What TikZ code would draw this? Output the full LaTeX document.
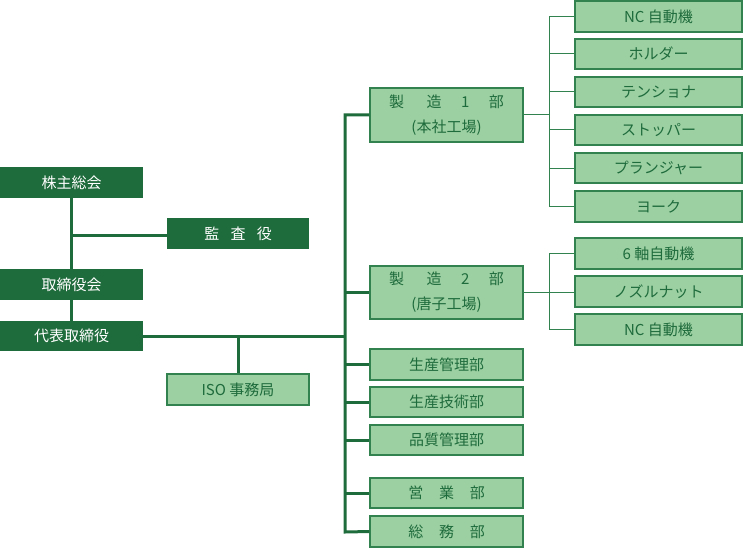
\documentclass[tikz,border=0pt]{standalone}
\usepackage{fontspec}
\setmainfont{Noto Sans CJK JP}
\begin{document}
\begin{tikzpicture}[x=1pt,y=-1pt,
  dk/.style={draw=none,fill=dgreen,text=white,inner sep=0pt,font=\fontsize{15}{25}\selectfont},
  lt/.style={draw=bgreen,line width=1.2pt,fill=lgreen,text=dgreen,inner sep=0pt,font=\fontsize{15}{25}\selectfont,align=center},
  thick line/.style={draw=dgreen,line width=3pt},
  thin line/.style={draw=bgreen,line width=1pt}]
\definecolor{dgreen}{RGB}{30,107,59}
\definecolor{lgreen}{RGB}{156,207,162}
\definecolor{bgreen}{RGB}{50,130,80}
\useasboundingbox (0,0) rectangle (743,548);
\newcommand{\bx}[6]{\node[#1,minimum width=#4-#3,minimum height=#6-#5] (#2) at ({(#3+#4)/2},{(#5+#6)/2})}
\newcommand{\gp}[1]{\hspace{#1em}}
\bx{dk}{kabu}{0}{143}{167}{198} {株主総会};
\bx{dk}{kansa}{167}{309}{218}{249} {監\gp{0.75}査\gp{0.75}役};
\bx{dk}{tori}{0}{143}{269}{300} {取締役会};
\bx{dk}{dai}{0}{143}{321}{351} {代表取締役};
\bx{lt}{iso}{167}{309}{374}{405} {ISO 事務局};
\bx{lt}{s1}{370}{523}{88}{142} {製\gp{1.5}造\gp{1.3}1\gp{1.3}部\\(本社工場)};
\bx{lt}{s2}{370}{523}{266}{319} {製\gp{1.5}造\gp{1.3}2\gp{1.3}部\\(唐子工場)};
\bx{lt}{sk}{370}{523}{349}{380} {生産管理部};
\bx{lt}{sg}{370}{523}{387}{417} {生産技術部};
\bx{lt}{hk}{370}{523}{425}{455} {品質管理部};
\bx{lt}{eg}{370}{523}{478}{508} {営\gp{1.05}業\gp{1.05}部};
\bx{lt}{sm}{370}{523}{516}{547} {総\gp{1.05}務\gp{1.05}部};
\bx{lt}{a1}{575}{742}{1}{32} {NC 自動機};
\bx{lt}{a2}{575}{742}{39}{69} {ホルダー};
\bx{lt}{a3}{575}{742}{77}{107} {テンショナ};
\bx{lt}{a4}{575}{742}{115}{145} {ストッパー};
\bx{lt}{a5}{575}{742}{153}{183} {プランジャー};
\bx{lt}{a6}{575}{742}{191}{222} {ヨーク};
\bx{lt}{b1}{575}{742}{238}{269} {6 軸自動機};
\bx{lt}{b2}{575}{742}{276}{307} {ノズルナット};
\bx{lt}{b3}{575}{742}{314}{345} {NC 自動機};
% coordinates
\coordinate (kv) at (72,235);
\coordinate (isoj) at (238,336);
\coordinate (bus) at (345,336);
\coordinate (bt) at (345,115);
\coordinate (bb) at (345,532);
\coordinate (br1) at (549,115);
\coordinate (br2) at (549,292);
% left lines
\draw[thick line] (kabu.south) -- (tori.north);
\draw[thick line] (tori.south) -- (dai.north);
\draw[thick line] (kv) -- (kv -| kansa.west);
\draw[thick line] (dai.east) -- (bus);
\draw[thick line] (isoj) -- (iso.north);
% bus
\draw[thick line] (s1.west) -- (bt) -- (bb) -- (sm.west);
\foreach \n in {s2,sk,sg,hk,eg} \draw[thick line] (bus |- \n.west) -- (\n.west);
% brackets
\draw[thin line] (s1.east) -- (br1);
\draw[thin line] (a1.west) -| (br1 |- a6.west) -- (a6.west);
\foreach \n in {a2,a3,a4,a5} \draw[thin line] (br1 |- \n.west) -- (\n.west);
\draw[thin line] (s2.east) -- (s2.east -| b2.west);
\draw[thin line] (b1.west) -| (br2 |- b3.west) -- (b3.west);
\end{tikzpicture}
\end{document}
